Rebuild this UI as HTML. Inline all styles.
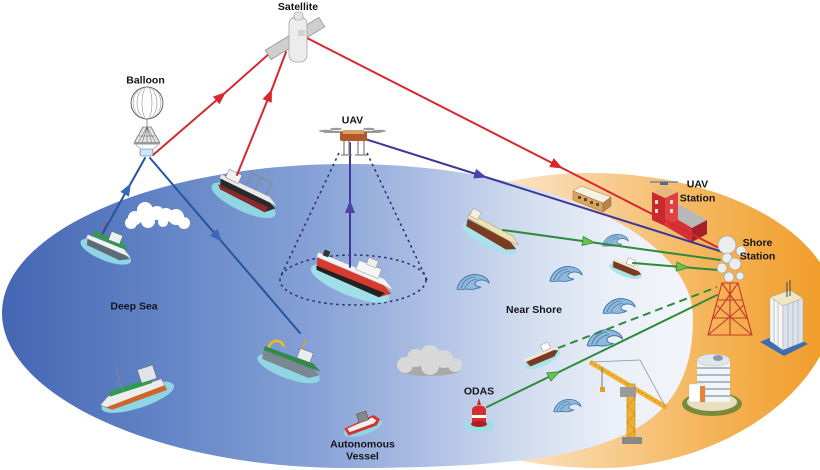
<!DOCTYPE html>
<html><head><meta charset="utf-8"><style>
html,body{margin:0;padding:0;background:#fff;}
svg{display:block;}
text{font-family:"Liberation Sans",Arial,sans-serif;font-weight:bold;font-size:10.5px;fill:#141418;text-anchor:middle;}
</style></head><body>
<svg width="820" height="470" viewBox="0 0 820 470" xmlns="http://www.w3.org/2000/svg">
<defs>
<linearGradient id="bg" gradientUnits="userSpaceOnUse" x1="2" y1="0" x2="693" y2="0">
<stop offset="0" stop-color="#4466b3"/><stop offset="0.25" stop-color="#6586c7"/><stop offset="0.45" stop-color="#86a1d6"/><stop offset="0.6" stop-color="#a9bce2"/><stop offset="0.75" stop-color="#d0dbee"/><stop offset="0.88" stop-color="#eaeff8"/><stop offset="1" stop-color="#f3f5f9"/>
</linearGradient>
<linearGradient id="og" gradientUnits="userSpaceOnUse" x1="480" y1="0" x2="835" y2="0">
<stop offset="0" stop-color="#fce9cf"/><stop offset="0.3" stop-color="#f8d29e"/><stop offset="0.6" stop-color="#f5b860"/><stop offset="1" stop-color="#f09a25"/>
</linearGradient>
<marker id="mr" markerUnits="userSpaceOnUse" markerWidth="14" markerHeight="10" refX="13" refY="5" orient="auto"><path d="M0,0 L13,5 L0,10 Z" fill="#d7282f"/></marker>
<marker id="mb" markerUnits="userSpaceOnUse" markerWidth="14" markerHeight="10" refX="13" refY="5" orient="auto"><path d="M0,0 L13,5 L0,10 Z" fill="#3a68b4"/></marker>
<marker id="mp" markerUnits="userSpaceOnUse" markerWidth="14" markerHeight="10" refX="13" refY="5" orient="auto"><path d="M0,0 L13,5 L0,10 Z" fill="#4b43a6"/></marker>
<marker id="mg" markerUnits="userSpaceOnUse" markerWidth="14" markerHeight="10" refX="13" refY="5" orient="auto"><path d="M0.5,0.5 L12.5,5 L0.5,9.5 Z" fill="#6cc04a" stroke="#2e8a3c" stroke-width="0.8"/></marker>
<g id="wave">
<path d="M2,16 C4,6 14,0 24,2 C30,3 34,7 34,10 C31,7 26,6 22,8 C18,10 20,14 26,14 C22,16 16,17 12,16 C8,16 4,17 2,16Z" fill="#8fb8dc" stroke="#2f6aa0" stroke-width="0.8"/>
<path d="M6,15 C8,8 14,4 20,4 M10,15 C12,10 16,7 22,6" fill="none" stroke="#2f6aa0" stroke-width="0.6"/>
</g>
</defs>

<rect width="820" height="470" fill="#fff"/>

<!-- orange shore region -->
<path d="M330,321 C330,240 460,173 590,173 C720,173 825,230 835,300 C835,390 720,468 600,468 C460,468 330,400 330,321 Z" fill="url(#og)"/>
<!-- blue sea region -->
<path d="M2,313 C2,231 157,164 348,164 C538,164 693,233 693,318 C693,440 600,468 348,468 C157,468 2,395 2,313 Z" fill="url(#bg)"/>

<!-- UAV dotted cone -->
<g fill="none" stroke="#2b3170" stroke-width="1.6" stroke-dasharray="2.5 3.5">
<line x1="339" y1="153" x2="280" y2="278"/>
<line x1="367" y1="153" x2="427" y2="280"/>
<ellipse cx="353" cy="280" rx="73" ry="25"/>
</g>

<!-- clouds -->
<g fill="#fff">
<circle cx="135" cy="218" r="7"/><circle cx="145" cy="210" r="8"/><circle cx="157" cy="213" r="7"/><circle cx="166" cy="215" r="7"/><circle cx="176" cy="217" r="8"/><circle cx="148" cy="221" r="7"/><circle cx="184" cy="223" r="6"/><circle cx="131" cy="223" r="6"/><circle cx="163" cy="222" r="5"/>
</g>
<g>
<ellipse cx="429" cy="370" rx="31" ry="6" fill="#a9a9a9"/>
<g fill="#d8d8d8"><circle cx="405" cy="365" r="8"/><circle cx="416" cy="358" r="9"/><circle cx="430" cy="355" r="10"/><circle cx="444" cy="359" r="9"/><circle cx="455" cy="365" r="7"/><circle cx="430" cy="366" r="9"/></g>
</g>

<!-- waves -->
<use href="#wave" transform="translate(455,273)"/>
<use href="#wave" transform="translate(548,265)"/>
<use href="#wave" transform="translate(601,233) scale(0.8)"/>
<use href="#wave" transform="translate(601,297)"/>
<use href="#wave" transform="translate(585,328) scale(1.1)"/>
<use href="#wave" transform="translate(552,398) scale(0.85)"/>

<!-- ship 1 green fishing boat -->
<g transform="translate(108,246) rotate(22)">
<ellipse cx="0" cy="6" rx="27" ry="9" fill="#8fd6e2"/>
<path d="M-22,0 L16,0 L25,4 L16,9 L-20,7 Z" fill="#5d6b78"/>
<path d="M-23,-3 L16,-3 L25,2 L16,2 L-23,1 Z" fill="#f1f1f1"/>
<path d="M-19,-9 L12,-9 L20,-4 L12,-3 L-19,-4 Z" fill="#2f9a51"/>
<rect x="-2" y="-15" width="12" height="9" fill="#e9f1ee" stroke="#555" stroke-width=".4"/>
<line x1="-10" y1="-22" x2="-10" y2="-6" stroke="#c0392b" stroke-width="1"/>
</g>
<!-- ship 3 research -->
<g transform="translate(247,193) rotate(25)">
<ellipse cx="0" cy="8" rx="35" ry="11" fill="#8fd6e2"/>
<path d="M-30,-2 L22,-2 L32,2 L24,10 L-26,8 Z" fill="#2a2a2a"/>
<path d="M-30,4 L26,4 L24,10 L-26,8Z" fill="#8b2a2a"/>
<path d="M-31,-6 L22,-6 L32,-1 L22,-1 L-31,-2 Z" fill="#eaeaea"/>
<rect x="-26" y="-14" width="14" height="9" fill="#f2f2f2" stroke="#777" stroke-width=".5"/>
<path d="M-4,-6 L-4,-20 L18,-20 L18,-6 M6,-20 L6,-6" stroke="#888" stroke-width="1" fill="none"/>
</g>
<!-- ship 4 UAV ship -->
<g transform="translate(353,276) rotate(22)">
<ellipse cx="0" cy="8" rx="42" ry="12" fill="#9fdfe8"/>
<path d="M-40,-4 L30,-4 L42,2 L32,10 L-36,8 Z" fill="#d83a2e"/>
<path d="M-38,4 L36,4 L32,10 L-36,8 Z" fill="#222"/>
<path d="M-41,-9 L30,-9 L43,-2 L30,-3 L-41,-4 Z" fill="#f3f3f3" stroke="#aaa" stroke-width=".4"/>
<rect x="0" y="-17" width="24" height="10" fill="#f6f6f6" stroke="#999" stroke-width=".5"/>
<rect x="8" y="-23" width="10" height="7" fill="#eee" stroke="#999" stroke-width=".5"/>
<rect x="-36" y="-14" width="6" height="6" fill="#333"/>
</g>
<!-- ship 5 bottom-left -->
<g transform="translate(134,392) rotate(-18)">
<ellipse cx="2" cy="6" rx="38" ry="11" fill="#8fd6e2"/>
<path d="M-36,2 L-26,-4 L30,-4 L32,8 L-26,10 Z" fill="#ececec" stroke="#888" stroke-width=".5"/>
<path d="M-32,6 L31,3 L32,8 L-26,10 Z" fill="#d0652a"/>
<path d="M-24,-8 L20,-8 L20,-3 L-24,-3 Z" fill="#2f9a51"/>
<rect x="10" y="-20" width="16" height="14" fill="#dfe4e6" stroke="#666" stroke-width=".5"/>
<line x1="-10" y1="-30" x2="-10" y2="-4" stroke="#888"/>
</g>
<!-- ship 6 -->
<g transform="translate(291,362) rotate(20)">
<ellipse cx="0" cy="7" rx="33" ry="10" fill="#8fd6e2"/>
<path d="M-30,-2 L22,-2 L31,3 L22,9 L-28,7 Z" fill="#7b8793"/>
<path d="M-30,-6 L22,-6 L31,-1 L22,-1 L-30,-2 Z" fill="#2f8a4c"/>
<rect x="4" y="-16" width="14" height="10" fill="#e6ecef" stroke="#666" stroke-width=".5"/>
<path d="M-26,-6 C-26,-16 -16,-18 -12,-12" stroke="#e8c21a" stroke-width="2.5" fill="none"/>
<line x1="6" y1="-26" x2="6" y2="-16" stroke="#e0a020" stroke-width="1.5"/>
</g>
<!-- ship 7 autonomous -->
<g transform="translate(362,425) rotate(-18)">
<ellipse cx="0" cy="3" rx="20" ry="7" fill="#8fd6e2"/>
<path d="M-18,-2 L14,-6 L19,0 L14,5 L-16,6 Z" fill="#d8342e"/>
<path d="M-15,-1 L12,-4 L15,0 L12,2 L-14,3 Z" fill="#f0f0f0"/>
<rect x="-2" y="-12" width="10" height="9" fill="#888" stroke="#444" stroke-width=".5"/>
</g>
<!-- ship 8 tanker -->
<g transform="translate(492,233) rotate(28)">
<ellipse cx="0" cy="6" rx="30" ry="9" fill="#a8e2ea"/>
<path d="M-28,-1 L20,-1 L29,3 L20,8 L-26,6 Z" fill="#7a3b22"/>
<path d="M-29,-7 L20,-7 L29,-2 L20,-1 L-29,-2 Z" fill="#efe2b0" stroke="#9a8a5a" stroke-width=".4"/>
<rect x="-28" y="-13" width="9" height="8" fill="#f4f0e0" stroke="#888" stroke-width=".4"/>
</g>
<!-- ship 9 -->
<g transform="translate(627,267) rotate(20)">
<ellipse cx="0" cy="4" rx="17" ry="6" fill="#a8e2ea"/>
<path d="M-15,-1 L10,-1 L16,2 L10,6 L-13,5 Z" fill="#7a3b22"/>
<path d="M-15,-4 L10,-4 L16,0 L10,0 L-15,-1 Z" fill="#f2e6d6"/>
<rect x="-2" y="-9" width="8" height="6" fill="#fff" stroke="#777" stroke-width=".4"/>
</g>
<!-- ship 10 -->
<g transform="translate(541,356) rotate(-25)">
<ellipse cx="0" cy="4" rx="19" ry="6" fill="#a8e2ea"/>
<path d="M-16,-1 L12,-1 L18,2 L12,6 L-14,5 Z" fill="#7a3b22"/>
<path d="M-17,-4 L12,-4 L18,0 L12,0 L-17,-1 Z" fill="#f2e6d6"/>
<rect x="4" y="-10" width="8" height="7" fill="#fff" stroke="#777" stroke-width=".4"/>
</g>
<!-- ODAS buoy -->
<g>
<ellipse cx="479" cy="426" rx="16" ry="6" fill="#9fdde6"/>
<path d="M472,424 L472,410 C472,404 486,404 486,410 L486,424 Z" fill="#d32f2f"/>
<rect x="472" y="415" width="14" height="3" fill="#fff"/>
<ellipse cx="479" cy="424" rx="8" ry="3" fill="#a82020"/>
<path d="M477,405 L479,398 L481,405Z" fill="#c62828"/>
</g>

<!-- small building -->
<g stroke="#7a5a3a" stroke-width=".4">
<polygon points="573,191 581,186 611,197 603,203" fill="#f7f1e2"/>
<polygon points="573,191 603,203 603,212 573,200" fill="#d9a55a"/>
<polygon points="603,203 611,197 611,206 603,212" fill="#b8844a"/>
</g>
<g fill="#5a4a3a"><rect x="578" y="196" width="3" height="3"/><rect x="584" y="198" width="3" height="3"/><rect x="590" y="201" width="3" height="3"/><rect x="596" y="203" width="3" height="3"/></g>

<!-- UAV station -->
<g>
<polygon points="665,212 680,205 707,220 692,228" fill="#b8b8b8"/>
<polygon points="665,212 692,228 692,242 665,226" fill="#d2323a"/>
<polygon points="692,228 707,220 707,234 692,242" fill="#a82028"/>
<polygon points="652,192 665,186 678,192 665,198" fill="#e6b880"/>
<polygon points="652,192 665,198 665,226 652,220" fill="#c8282e"/>
<polygon points="665,198 678,192 678,220 665,226" fill="#e04040"/>
<line x1="650" y1="182" x2="678" y2="182" stroke="#6a8ab0" stroke-width="1.5"/>
<rect x="660" y="182" width="8" height="3" fill="#5a6a80"/>
<g fill="#f3d7c0"><rect x="655" y="200" width="3" height="4"/><rect x="655" y="209" width="3" height="4"/><rect x="670" y="200" width="3" height="4"/><rect x="670" y="209" width="3" height="4"/></g>
</g>

<!-- white tall building -->
<g>
<polygon points="760,342 784,356 808,344 785,331" fill="#3d6fb0"/>
<polygon points="770,297 790,290 803,298 783,306" fill="#efe6c4" stroke="#8a8a7a" stroke-width=".4"/>
<polygon points="770,297 783,306 783,350 770,341" fill="#f6f6f6" stroke="#999" stroke-width=".4"/>
<polygon points="783,306 803,298 803,342 783,350" fill="#dde3ea" stroke="#999" stroke-width=".4"/>
<g stroke="#a6b0bc" stroke-width=".7"><line x1="774" y1="300" x2="774" y2="344"/><line x1="778" y1="303" x2="778" y2="347"/><line x1="788" y1="304" x2="788" y2="348"/><line x1="793" y1="302" x2="793" y2="346"/><line x1="798" y1="300" x2="798" y2="344"/></g>
<line x1="787" y1="282" x2="787" y2="297" stroke="#444" stroke-width="1"/>
<line x1="790" y1="280" x2="790" y2="296" stroke="#444" stroke-width="1"/>
</g>

<!-- round building -->
<g>
<ellipse cx="712" cy="404" rx="30" ry="12" fill="#7a8a3a"/>
<ellipse cx="712" cy="402" rx="25" ry="9" fill="#e8dfbf"/>
<rect x="697" y="360" width="33" height="42" fill="#f2f4f6"/>
<g stroke="#8fa6bf" stroke-width="1.4"><line x1="697" y1="368" x2="730" y2="368"/><line x1="697" y1="375" x2="730" y2="375"/><line x1="697" y1="382" x2="730" y2="382"/><line x1="697" y1="389" x2="730" y2="389"/><line x1="697" y1="396" x2="730" y2="396"/></g>
<ellipse cx="713.5" cy="360" rx="16.5" ry="6" fill="#dfe6ec" stroke="#aaa" stroke-width=".4"/>
<ellipse cx="718" cy="358" rx="5" ry="3" fill="#8a9aa8"/>
<rect x="689" y="384" width="16" height="18" fill="#fff" stroke="#bbb" stroke-width=".4"/>
<rect x="700" y="386" width="5" height="16" fill="#e8823a"/>
</g>

<!-- crane -->
<g>
<line x1="590" y1="362" x2="667" y2="408" stroke="#f0b030" stroke-width="5"/>
<line x1="590" y1="362" x2="667" y2="408" stroke="#c88a10" stroke-width="0.8" stroke-dasharray="2 3"/>
<line x1="640" y1="360" x2="592" y2="362" stroke="#999" stroke-width=".8"/>
<line x1="640" y1="360" x2="665" y2="406" stroke="#999" stroke-width=".8"/>
<rect x="627" y="384" width="8" height="55" fill="#f0b030" stroke="#c08010" stroke-width=".6"/>
<path d="M627,390 L635,398 L627,406 L635,414 L627,422 L635,430 L627,438" stroke="#c08010" stroke-width=".6" fill="none"/>
<rect x="620" y="387" width="16" height="10" fill="#9a9a9a"/>
<line x1="602" y1="367" x2="602" y2="388" stroke="#777" stroke-width="1"/>
<rect x="600" y="387" width="5" height="5" fill="#e0a020"/>
<rect x="622" y="437" width="20" height="7" fill="#888"/>
</g>

<!-- shore station tower -->
<g stroke="#c8382e" stroke-width="1.1" fill="none">
<polygon points="722,283 738,283 752,335 708,335"/>
<line x1="722" y1="283" x2="748" y2="320"/><line x1="738" y1="283" x2="712" y2="320"/>
<line x1="716" y1="305" x2="752" y2="335"/><line x1="744" y1="305" x2="708" y2="335"/>
<line x1="718" y1="300" x2="742" y2="300"/><line x1="714" y1="318" x2="747" y2="318"/>
<line x1="730" y1="283" x2="730" y2="335"/>
</g>

<!-- connectors -->
<g stroke-width="2" fill="none" stroke-linecap="round">
<g stroke="#d7282f">
<line x1="153" y1="155" x2="226" y2="92" marker-end="url(#mr)"/><line x1="226" y1="92" x2="270" y2="53"/>
<line x1="237" y1="175" x2="272" y2="89" marker-end="url(#mr)"/><line x1="272" y1="89" x2="286" y2="52"/>
<line x1="307" y1="38" x2="563" y2="168.5" marker-end="url(#mr)"/><line x1="563" y1="168.5" x2="717" y2="247"/>
</g>
<g stroke="#24559e">
<line x1="103" y1="233" x2="131" y2="183" marker-end="url(#mb)"/><line x1="131" y1="183" x2="145" y2="158"/>
<line x1="150" y1="158" x2="222" y2="242" marker-end="url(#mb)"/><line x1="222" y1="242" x2="300" y2="333"/>
</g>
<g stroke="#3f3796">
<line x1="350" y1="267" x2="350" y2="200" marker-end="url(#mp)"/><line x1="350" y1="200" x2="350" y2="143"/>
<line x1="365" y1="139" x2="487" y2="177.5" marker-end="url(#mp)"/><line x1="487" y1="177.5" x2="723" y2="252"/>
</g>
<g stroke="#2e8a3c">
<line x1="503" y1="230" x2="595" y2="242.7" marker-end="url(#mg)"/><line x1="595" y1="242.7" x2="720" y2="260"/>
<line x1="633" y1="263" x2="689" y2="267.6" marker-end="url(#mg)"/><line x1="689" y1="267.6" x2="718" y2="270"/>
<line x1="558" y1="348" x2="717" y2="287" stroke-dasharray="8 5" stroke-linecap="butt"/>
<line x1="487" y1="407" x2="560" y2="371.5" marker-end="url(#mg)"/><line x1="560" y1="371.5" x2="717" y2="295"/>
</g>
</g>

<!-- dishes -->
<g fill="#ececec" stroke="#9a9a9a" stroke-width=".6">
<circle cx="727" cy="245" r="9"/><circle cx="741" cy="251" r="5"/><circle cx="727" cy="258" r="5"/><circle cx="735" cy="264" r="6"/><circle cx="722" cy="268" r="5"/><circle cx="729" cy="277" r="5"/><circle cx="740" cy="276" r="4"/>
</g>

<!-- satellite -->
<g>
<rect x="-31.5" y="-5.5" width="63" height="11" fill="#cfcfcf" stroke="#8a8a8a" stroke-width=".7" transform="translate(295,38.5) rotate(-31.5)"/>
<rect x="289" y="17" width="18" height="45" rx="7" fill="#ececec" stroke="#9a9a9a" stroke-width=".7"/>
<rect x="294" y="12" width="9" height="8" rx="3" fill="#e4e4e4" stroke="#9a9a9a" stroke-width=".6"/>
<rect x="298" y="30" width="7" height="6" fill="#d2d2d2"/>
</g>

<!-- balloon -->
<g>
<circle cx="147" cy="103" r="16" fill="#fff" stroke="#444" stroke-width=".8"/>
<g fill="none" stroke="#777" stroke-width=".5"><ellipse cx="147" cy="103" rx="5" ry="16"/><ellipse cx="147" cy="103" rx="10" ry="16"/><ellipse cx="147" cy="103" rx="14" ry="16"/></g>
<line x1="147" y1="119" x2="147" y2="128" stroke="#444" stroke-width=".6"/>
<polygon points="143,127 151,127 160,143 134,143" fill="#e4e4e4" stroke="#444" stroke-width=".6"/>
<g stroke="#555" stroke-width=".5"><line x1="147" y1="127" x2="138" y2="143"/><line x1="147" y1="127" x2="142" y2="143"/><line x1="147" y1="127" x2="147" y2="143"/><line x1="147" y1="127" x2="152" y2="143"/><line x1="147" y1="127" x2="156" y2="143"/><line x1="139" y1="136" x2="155" y2="136"/></g>
<rect x="134" y="142" width="26" height="2.5" fill="#999"/>
<g stroke="#555" stroke-width=".5"><line x1="136" y1="145" x2="142" y2="150"/><line x1="158" y1="145" x2="152" y2="150"/></g>
<rect x="140" y="149" width="13" height="7" rx="2" fill="#cfe6f3" stroke="#4a6a8a" stroke-width=".6"/>
</g>

<!-- UAV drone -->
<g>
<line x1="324" y1="132" x2="381" y2="132" stroke="#777" stroke-width="1.4"/>
<g fill="#999"><ellipse cx="326" cy="131" rx="7" ry="1.3"/><ellipse cx="379" cy="131" rx="7" ry="1.3"/><ellipse cx="336" cy="129" rx="6" ry="1.2"/><ellipse cx="369" cy="129" rx="6" ry="1.2"/></g>
<rect x="340" y="132" width="27" height="9" rx="2" fill="#b4582a"/>
<rect x="343" y="130" width="21" height="4" fill="#d9a06a"/>
<path d="M344,141 L344,155 M349,141 L349,155 M358,141 L358,155 M364,141 L364,155 M341,155 L352,155 M355,155 L367,155" stroke="#888" stroke-width="1.3" fill="none"/>
</g>

<!-- labels -->
<text x="298" y="10">Satellite</text>
<text x="145.5" y="83.5">Balloon</text>
<text x="352.5" y="123.5">UAV</text>
<text x="697.5" y="187.5">UAV</text>
<text x="697.5" y="201.5">Station</text>
<text x="757.5" y="246">Shore</text>
<text x="757.5" y="259.5">Station</text>
<text x="134" y="309.5">Deep Sea</text>
<text x="534" y="313">Near Shore</text>
<text x="479" y="394.5">ODAS</text>
<text x="362.5" y="447.5">Autonomous</text>
<text x="362.5" y="459.5">Vessel</text>
</svg>
</body></html>
